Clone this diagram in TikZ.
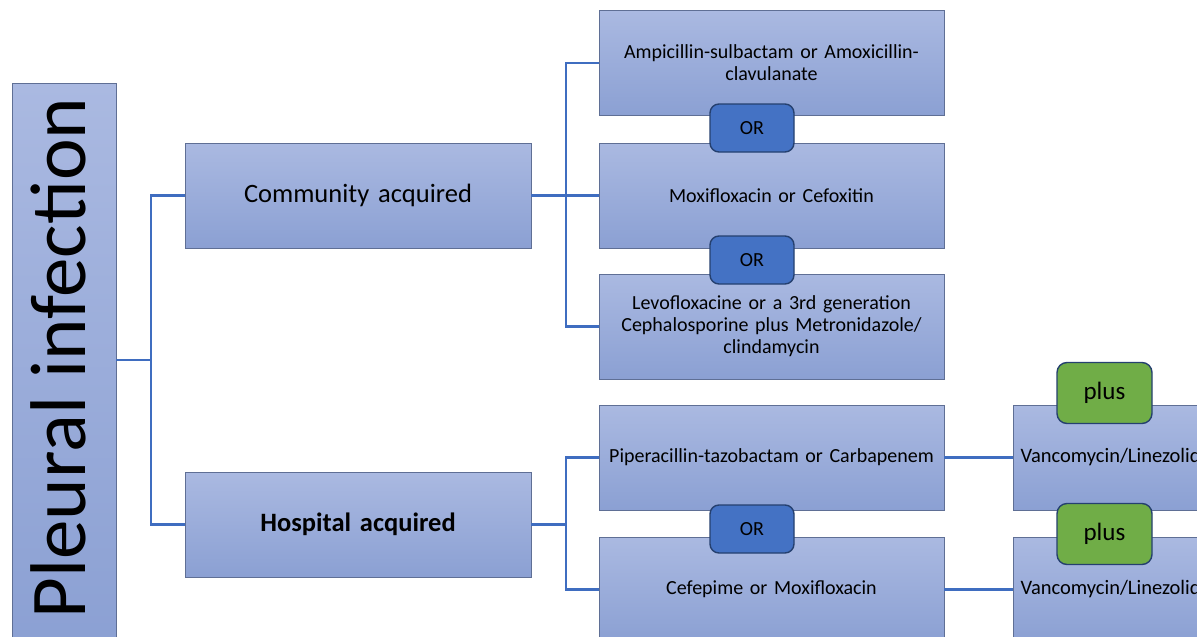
\documentclass[tikz,border=0pt]{standalone}
\usepackage{fontspec}
\setmainfont{Carlito}
\definecolor{boxtop}{HTML}{AAB9E1}
\definecolor{boxbot}{HTML}{8BA0D3}
\definecolor{boxline}{HTML}{5F6F95}
\definecolor{connc}{HTML}{3F6DC0}
\definecolor{orfill}{HTML}{4472C4}
\definecolor{orline}{HTML}{25406F}
\definecolor{plusfill}{HTML}{70AD47}
\tikzset{
  gbox/.style={draw=boxline, line width=0.8pt, top color=boxtop, bottom color=boxbot,
    minimum width=345pt, minimum height=105pt, inner sep=4pt, align=center,
    text width=335pt, font=\fontsize{20}{22}\selectfont},
  midbox/.style={gbox, minimum width=346pt, text width=330pt, font=\fontsize{26.5}{30}\selectfont},
  orbox/.style={draw=orline, line width=1.4pt, fill=orfill, rounded corners=9pt,
    minimum width=84pt, minimum height=48pt, inner sep=0pt, font=\fontsize{20}{22}\selectfont},
  plusbox/.style={draw=orline, line width=1.4pt, fill=plusfill, rounded corners=10pt,
    minimum width=95pt, minimum height=61pt, inner sep=0pt, font=\fontsize{25}{28}\selectfont},
  conn/.style={draw=connc, line width=2.5pt}
}
\begin{document}
\begin{tikzpicture}[x=1pt,y=-1pt]
\path[use as bounding box] (0,0) rectangle (1197,637);
\clip (0,0) rectangle (1197,637);
\fill[white] (0,0) rectangle (1197,637);

% left column
\node[draw=boxline, line width=0.8pt, top color=boxtop, bottom color=boxbot,
  minimum width=104pt, minimum height=567pt, inner sep=0pt] (pleural) at (64,366.5) {};
\node[rotate=90, anchor=base, font=\fontsize{79}{80}\selectfont, inner sep=0pt] (ptext) at (85,358) {Pleural infection};

% middle column
\node[midbox] (ca) at (358,195.5) {Community acquired};
\node[midbox] (ha) at (358,524.5) {\bfseries Hospital acquired};

% right column
\node[gbox] (b1) at (771.5,63) {Ampicillin-sulbactam or Amoxicillin-\\clavulanate};
\node[gbox] (b2) at (771.5,195.5) {Moxifloxacin or Cefoxitin};
\node[gbox] (b3) at (771.5,326.5) {Levofloxacine or a 3rd generation\\Cephalosporine plus Metronidazole/\\clindamycin};
\node[gbox] (b4) at (771.5,457.5) {Piperacillin-tazobactam or Carbapenem};
\node[gbox] (b5) at (771.5,589.5) {Cefepime or Moxifloxacin};

% far right column
\node[gbox, align=left, inner sep=7pt, text width=330pt, font=\fontsize{20.5}{22}\selectfont] (v1) at (1185.5,457.5) {Vancomycin/Linezolid};
\node[gbox, align=left, inner sep=7pt, text width=330pt, font=\fontsize{20.5}{22}\selectfont] (v2) at (1185.5,589.5) {Vancomycin/Linezolid};

% connectors
\coordinate (j1) at (151,360);
\draw[conn] (j1 -| pleural.east) -- (j1);
\draw[conn] (ca.west) -| (j1) |- (ha.west);
\coordinate (j2) at (566,195.5);
\draw[conn] (ca.east) -- (j2);
\draw[conn] (b1.west) -| (j2) |- (b3.west);
\draw[conn] (j2) -- (b2.west);
\coordinate (j3) at (566,524.5);
\draw[conn] (ha.east) -- (j3);
\draw[conn] (b4.west) -| (j3) |- (b5.west);
\draw[conn] (b4.east) -- (v1.west);
\draw[conn] (b5.east) -- (v2.west);

% OR and plus tags
\node[orbox] (or1) at (752,128) {OR};
\node[orbox] (or2) at (752,260) {OR};
\node[orbox] (or3) at (752,529) {OR};
\node[plusbox] (p1) at (1104.5,393) {plus};
\node[plusbox] (p2) at (1104.5,534) {plus};
\end{tikzpicture}
\end{document}
